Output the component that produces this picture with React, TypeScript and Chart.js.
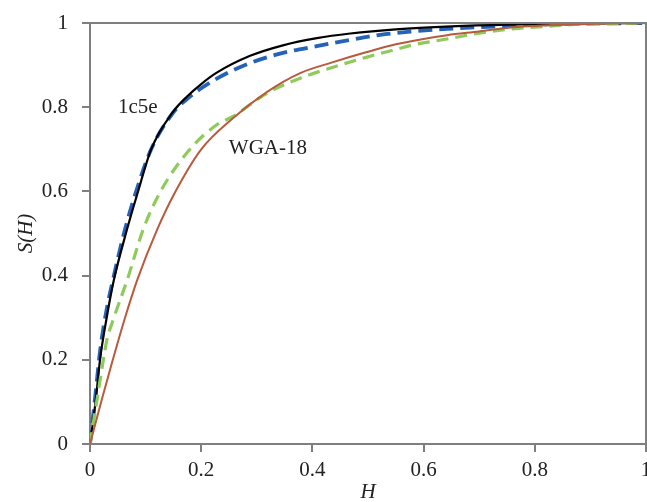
import React, { useEffect, useRef } from "react";
import { Chart, registerables } from "chart.js";

Chart.register(...registerables);

// 1c5e, solid black
const black_H = [0, 0.01, 0.018, 0.03, 0.043, 0.066, 0.086, 0.11, 0.15, 0.175, 0.2, 0.228, 0.288, 0.347, 0.408, 0.468, 0.55, 0.65, 0.75, 0.85, 1];
const black_S = [0, 0.1, 0.2, 0.3, 0.39, 0.507, 0.598, 0.7, 0.79, 0.826, 0.855, 0.882, 0.922, 0.947, 0.964, 0.975, 0.985, 0.992, 0.996, 0.998, 1];

// 1c5e, dashed blue
const blue_H = [0, 0.01, 0.018, 0.03, 0.043, 0.063, 0.083, 0.11, 0.15, 0.175, 0.2, 0.228, 0.288, 0.347, 0.408, 0.468, 0.522, 0.581, 0.642, 0.7, 0.82, 1];
const blue_S = [0, 0.12, 0.22, 0.32, 0.4, 0.51, 0.6, 0.7, 0.788, 0.82, 0.845, 0.868, 0.905, 0.929, 0.945, 0.96, 0.972, 0.98, 0.986, 0.99, 0.997, 1];

// WGA-18, solid brown
const brown_H = [0, 0.02, 0.041, 0.063, 0.085, 0.12, 0.153, 0.2, 0.257, 0.318, 0.378, 0.437, 0.498, 0.552, 0.6, 0.642, 0.7, 0.76, 0.88, 1];
const brown_S = [0, 0.1, 0.2, 0.3, 0.39, 0.507, 0.598, 0.7, 0.774, 0.836, 0.881, 0.907, 0.931, 0.95, 0.962, 0.971, 0.98, 0.99, 0.997, 1];

// WGA-18, dashed green
const green_H = [0, 0.012, 0.024, 0.03, 0.043, 0.067, 0.095, 0.126, 0.183, 0.23, 0.257, 0.318, 0.378, 0.437, 0.498, 0.552, 0.581, 0.642, 0.7, 0.76, 0.82, 0.88, 1];
const green_S = [0, 0.1, 0.2, 0.245, 0.3, 0.39, 0.507, 0.598, 0.705, 0.76, 0.778, 0.833, 0.869, 0.895, 0.919, 0.938, 0.948, 0.962, 0.976, 0.986, 0.992, 0.997, 1];

const labels = [
  { text: "1c5e", H: 0.086, S: 0.8 },
  { text: "WGA-18", H: 0.32, S: 0.702 },
];

const toPts = (xs: number[], ys: number[]) => xs.map((x, i) => ({ x, y: ys[i] }));
const fmt = (v: any) => String(Number(Number(v).toFixed(1)));

const FONT = "'Liberation Serif', 'Times New Roman', serif";
const AXIS = "#7f7f7f";

export default function App() {
  const ref = useRef<HTMLCanvasElement>(null);
  useEffect(() => {
    const frame = {
      id: "frame",
      afterDatasetsDraw(chart: any) {
        const { ctx, chartArea: a, scales } = chart;
        ctx.save();
        ctx.strokeStyle = AXIS;
        ctx.lineWidth = 2;
        ctx.beginPath();
        ctx.moveTo(a.left - 8, a.top);
        ctx.lineTo(a.right, a.top);
        ctx.lineTo(a.right, a.bottom);
        ctx.stroke();
        ctx.fillStyle = "#222";
        ctx.font = `21px ${FONT}`;
        ctx.textAlign = "center";
        ctx.textBaseline = "middle";
        for (const l of labels) {
          ctx.fillText(l.text, scales.x.getPixelForValue(l.H), scales.y.getPixelForValue(l.S));
        }
        ctx.restore();
      },
    };
    const ds = (data: any, color: string, width: number, dash: number[]) => ({
      data,
      borderColor: color,
      borderWidth: width,
      borderDash: dash,
      pointRadius: 0,
      fill: false,
      cubicInterpolationMode: "monotone" as const,
    });
    const chart = new Chart(ref.current!, {
      type: "line",
      data: {
        datasets: [
          ds(toPts(brown_H, brown_S), "#b85a3c", 2, []),
          ds(toPts(green_H, green_S), "#8fcb5c", 3.2, [12, 7]),
          ds(toPts(black_H, black_S), "#000000", 2.2, []),
          ds(toPts(blue_H, blue_S), "#2463b8", 3.8, [14, 7]),
        ],
      },
      options: {
        responsive: false,
        animation: false,
        layout: { padding: { top: 23, right: 1, left: 0, bottom: 0 } },
        plugins: { legend: { display: false }, tooltip: { enabled: false } },
        scales: {
          x: {
            type: "linear",
            min: 0,
            max: 1,
            ticks: { stepSize: 0.2, color: "#222", font: { family: FONT, size: 21 }, padding: 6, maxRotation: 0, callback: fmt },
            grid: { drawOnChartArea: false, drawTicks: true, tickLength: 8, color: AXIS, lineWidth: 2 },
            border: { color: AXIS, width: 2 },
            title: { display: true, text: "H", color: "#222", font: { family: FONT, size: 21, style: "italic", lineHeight: 1 }, padding: { top: 0, bottom: -1 } },
            afterFit(scale: any) {
              scale.height = 58;
              scale.paddingLeft = 0;
              scale.paddingRight = 0;
            },
          },
          y: {
            type: "linear",
            min: 0,
            max: 1,
            ticks: { stepSize: 0.2, color: "#222", font: { family: FONT, size: 21 }, padding: 14, callback: fmt },
            grid: { drawOnChartArea: false, drawTicks: true, tickLength: 8, color: AXIS, lineWidth: 2 },
            border: { color: AXIS, width: 2 },
            title: { display: true, text: "S(H)", color: "#222", font: { family: FONT, size: 21, style: "italic", lineHeight: 1.2 }, padding: { top: 14, bottom: 0 } },
            afterFit(scale: any) {
              scale.width = 90;
              scale.paddingTop = 0;
              scale.paddingBottom = 0;
            },
          },
        },
      },
      plugins: [frame],
    });
    return () => chart.destroy();
  }, []);
  return (
    <div style={{ position: "absolute", left: 0, top: 0, width: 647, height: 502, background: "#fff" }}>
      <canvas ref={ref} width={647} height={502} />
    </div>
  );
}
